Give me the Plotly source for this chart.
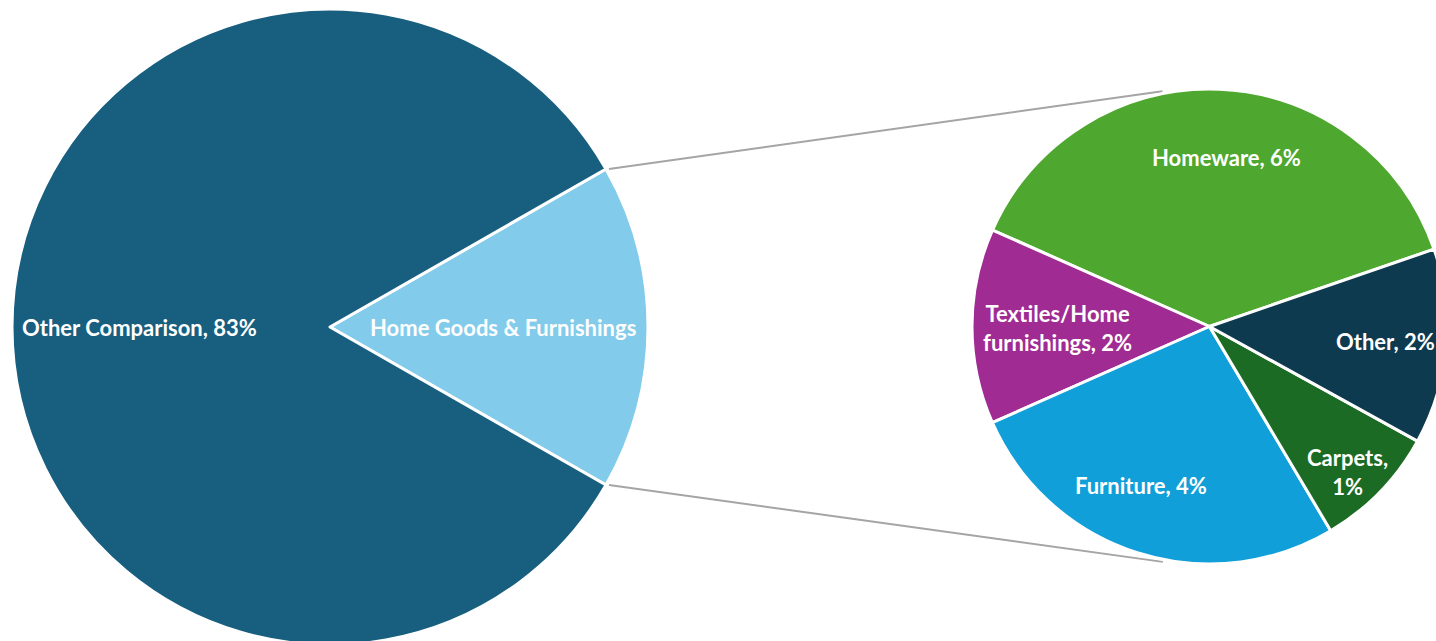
import math
import plotly.graph_objects as go

# Share of comparison-goods spend, %
main_labels = ["Home Goods & Furnishings", "Other Comparison"]
main_values = [16.55, 83.45]

detail_labels = ["Homeware", "Textiles/Home furnishings", "Furniture", "Carpets", "Other"]
detail_values = [6.3, 2.2, 4.45, 1.4, 2.2]

# ---- styling / geometry -------------------------------------------------
W, H = 1448, 646
MAIN_C, MAIN_R = (330.0, 327.0), 318.0
SUB_C, SUB_R = (1209.5, 326.5), 237.5

main_colors = ["#83CBEA", "#175E7F"]
detail_colors = ["#4EA72E", "#A02B93", "#119FD9", "#1B6B24", "#0E3A4F"]

FONT = "Lato"
FONT_SIZE = 22
SUB_START_CLOCK = 71  # clock angle where the first detail slice begins (ccw order)

# label placement: (fraction of radius, angle shift from slice middle in degrees)
main_label_polar = [(0.545, 0.0), (0.60, 0.0)]
detail_label_polar = [(0.713, -3.2), (0.642, 0.7), (0.727, -5.5), (0.846, -2.5), (0.742, 0.0)]
show_pct = [False, True]
wrap = {"Textiles/Home furnishings": "Textiles/Home<br>furnishings"}
sep = {"Carpets": ",<br>"}


def domain(c, r):
    cx, cy = c
    return dict(x=[(cx - r) / W, (cx + r) / W],
                y=[(H - cy - r) / H, (H - cy + r) / H])


def to_paper(px, py):
    return px / W, 1 - py / H


def slice_mids(values, start_clock, clockwise):
    """Middle angle of each slice in maths degrees (0 = right, ccw positive)."""
    total = sum(values)
    start_math = 90 - start_clock
    sign = -1 if clockwise else 1
    mids, acc = [], 0.0
    for v in values:
        span = 360 * v / total
        mids.append(start_math + sign * (acc + span / 2))
        acc += span
    return mids


main_frac = main_values[0] / sum(main_values)
main_rotation = 90 - 180 * main_frac
# in counterclockwise mode plotly lays the first slice clockwise of `rotation`
sub_rotation = SUB_START_CLOCK - 360 * detail_values[0] / sum(detail_values)

fig = go.Figure()
fig.add_trace(go.Pie(
    labels=main_labels, values=main_values, sort=False,
    direction="clockwise", rotation=main_rotation,
    marker=dict(colors=main_colors, line=dict(color="white", width=3)),
    textinfo="none", hoverinfo="label+percent", showlegend=False,
    domain=domain(MAIN_C, MAIN_R),
))
fig.add_trace(go.Pie(
    labels=detail_labels, values=detail_values, sort=False,
    direction="counterclockwise", rotation=sub_rotation,
    marker=dict(colors=detail_colors, line=dict(color="white", width=3)),
    textinfo="none", hoverinfo="label+value", showlegend=False,
    domain=domain(SUB_C, SUB_R),
))

annotations = []


def add_labels(labels, values, mids, polar, center, radius, pct_flags=None):
    for i, (lab, val, mid) in enumerate(zip(labels, values, mids)):
        frac, shift = polar[i]
        a = math.radians(mid + shift)
        px = center[0] + frac * radius * math.cos(a)
        py = center[1] - frac * radius * math.sin(a)
        x, y = to_paper(px, py)
        if pct_flags is not None and not pct_flags[i]:
            txt = lab
        else:
            txt = f"{wrap.get(lab, lab)}{sep.get(lab, ', ')}{val:.0f}%"
        annotations.append(dict(
            x=x, y=y, xref="paper", yref="paper", showarrow=False,
            text=f"<b>{txt}</b>", xanchor="center", yanchor="middle",
            font=dict(family=FONT, size=FONT_SIZE, color="white"),
        ))


add_labels(main_labels, main_values,
           slice_mids(main_values, main_rotation, True),
           main_label_polar, MAIN_C, MAIN_R, show_pct)
add_labels(detail_labels, detail_values,
           slice_mids(detail_values, SUB_START_CLOCK, False),
           detail_label_polar, SUB_C, SUB_R)

# connector lines: from the edges of the broken-out slice, tangent to the detail pie
shapes = []
half = math.radians(180 * main_frac)
for s in (1, -1):
    ex = MAIN_C[0] + MAIN_R * math.cos(half)
    ey = MAIN_C[1] - s * MAIN_R * math.sin(half)
    dx, dy = SUB_C[0] - ex, SUB_C[1] - ey
    d = math.hypot(dx, dy)
    base = math.atan2(dy, dx)
    off = math.asin(SUB_R / d)
    ang = base - s * off
    tl = math.sqrt(d * d - SUB_R * SUB_R)
    tx, ty = ex + tl * math.cos(ang), ey + tl * math.sin(ang)
    x0, y0 = to_paper(ex + 3, ey)
    x1, y1 = to_paper(tx - 15, ty)
    shapes.append(dict(type="line", xref="paper", yref="paper",
                       x0=x0, y0=y0, x1=x1, y1=y1,
                       line=dict(color="#A5A5A5", width=2), layer="below"))

fig.update_layout(
    width=W, height=H,
    margin=dict(l=0, r=0, t=0, b=0),
    paper_bgcolor="white", plot_bgcolor="white",
    annotations=annotations, shapes=shapes,
)

fig.write_html(
    "out.html",
    post_script=("document.documentElement.style.overflow='hidden';"
                 "document.body.style.overflow='hidden';"
                 "document.body.style.margin='0';"),
)
